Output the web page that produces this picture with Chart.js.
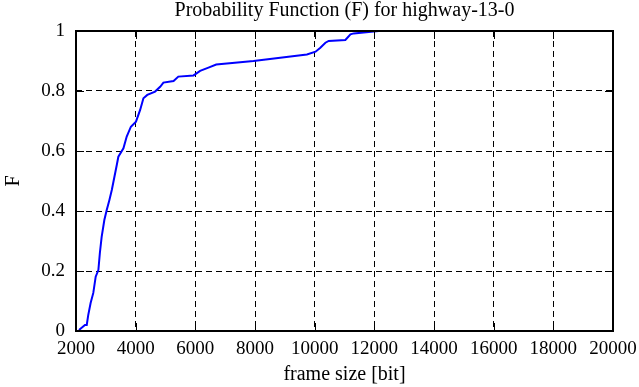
<!DOCTYPE html>
<html>
<head>
<meta charset="utf-8">
<script src="https://cdn.jsdelivr.net/npm/chart.js@4/dist/chart.umd.min.js"></script>
<style>
  html, body { margin: 0; padding: 0; background: #fff; }
  #wrap { width: 639px; height: 387px; }
</style>
</head>
<body>
<div id="wrap"><canvas id="cdf" width="639" height="387"></canvas></div>
<script>
// Values
const frameSize = [2100, 2300, 2360, 2410, 2490, 2580, 2660, 2750, 2800, 2860, 2950, 3030, 3120, 3200, 3260,
    3370, 3420, 3590, 3700, 3840, 4010, 4150, 4260, 4390, 4650, 4820, 4930, 5270, 5430, 5940,
    6160, 6440, 6700, 7950, 9740, 10030, 10190, 10360, 10470, 11030, 11200, 11310, 12150];
const cdf = [0.003, 0.02, 0.02, 0.053, 0.093, 0.127, 0.181, 0.203, 0.26, 0.314, 0.37, 0.403, 0.437, 0.47, 0.5,
    0.555, 0.581, 0.609, 0.648, 0.681, 0.698, 0.737, 0.776, 0.787, 0.798, 0.814, 0.828, 0.833, 0.848, 0.852,
    0.867, 0.878, 0.888, 0.9, 0.922, 0.931, 0.944, 0.961, 0.967, 0.97, 0.989, 0.992, 1.0];
const xTicks = [2000, 4000, 6000, 8000, 10000, 12000, 14000, 16000, 18000, 20000];
const yTicks = [0, 0.2, 0.4, 0.6, 0.8, 1];

const FONT = 'Liberation Serif';

// border box, inward ticks and title, gnuplot style
const framePlugin = {
    id: 'frame',
    afterDraw(chart) {
        const ctx = chart.ctx;
        const a = chart.chartArea;
        const xs = chart.scales.x, ys = chart.scales.y;
        ctx.save();
        ctx.strokeStyle = '#000';
        ctx.lineWidth = 1;
        ctx.setLineDash([]);
        ctx.beginPath();
        for (const v of xTicks) {
            const px = Math.round(xs.getPixelForValue(v)) + 0.5;
            ctx.moveTo(px, a.bottom); ctx.lineTo(px, a.bottom - 8);
            ctx.moveTo(px, a.top); ctx.lineTo(px, a.top + 8);
        }
        for (const v of yTicks) {
            const py = Math.round(ys.getPixelForValue(v)) + 0.5;
            ctx.moveTo(a.left, py); ctx.lineTo(a.left + 8, py);
            ctx.moveTo(a.right, py); ctx.lineTo(a.right - 8, py);
        }
        ctx.stroke();
        ctx.lineWidth = 2;
        ctx.strokeRect(a.left, a.top, a.right - a.left, a.bottom - a.top);
        ctx.fillStyle = '#000';
        ctx.font = '20px "' + FONT + '"';
        ctx.textAlign = 'center';
        ctx.textBaseline = 'alphabetic';
        ctx.fillText('Probability Function (F) for highway-13-0', (a.left + a.right) / 2, 16);
        ctx.restore();
    }
};

new Chart(document.getElementById('cdf'), {
    type: 'line',
    data: {
        datasets: [{
            data: frameSize.map((x, i) => ({ x: x, y: cdf[i] })),
            borderColor: '#0000ff',
            borderWidth: 2,
            pointRadius: 0,
            tension: 0,
            fill: false
        }]
    },
    options: {
        responsive: false,
        animation: false,
        layout: { padding: { top: 31, right: 26, left: 0, bottom: 0 } },
        plugins: { legend: { display: false }, tooltip: { enabled: false }, title: { display: false } },
        scales: {
            x: {
                type: 'linear', min: 2000, max: 20000,
                afterBuildTicks: s => { s.ticks = xTicks.map(v => ({ value: v })); },
                afterFit: s => { s.height = 56; s.paddingLeft = 0; s.paddingRight = 0; },
                grid: { color: '#000', lineWidth: 1, drawTicks: false },
                border: { display: false, dash: [6, 4] },
                ticks: { color: '#000', padding: 7, maxRotation: 0, autoSkip: false,
                    font: { family: FONT, size: 19 }, callback: v => String(v) },
                title: { display: true, text: 'frame size [bit]', color: '#000',
                    font: { family: FONT, size: 20 }, padding: { top: 0, bottom: 0 } }
            },
            y: {
                min: 0, max: 1,
                afterBuildTicks: s => { s.ticks = yTicks.map(v => ({ value: v })); },
                afterFit: s => { s.width = 76; s.paddingTop = 0; s.paddingBottom = 0; },
                grid: { color: '#000', lineWidth: 1, drawTicks: false },
                border: { display: false, dash: [6, 4] },
                ticks: { color: '#000', padding: 11, autoSkip: false,
                    font: { family: FONT, size: 19 }, callback: v => String(v) },
                title: { display: true, text: 'F', color: '#000',
                    font: { family: FONT, size: 20 }, padding: { top: 2, bottom: 0 } }
            }
        }
    },
    plugins: [framePlugin]
});
</script>
</body>
</html>
